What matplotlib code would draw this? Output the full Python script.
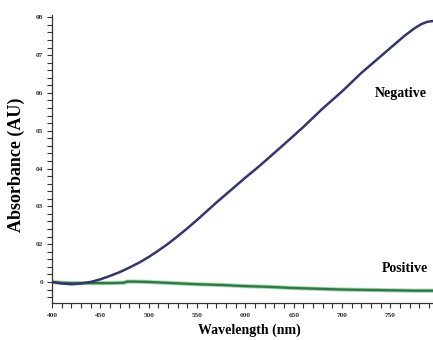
import matplotlib
matplotlib.use("Agg")
import matplotlib.pyplot as plt
from matplotlib.ticker import MultipleLocator

# ---- data ----
neg_nm = [400, 410, 420, 430, 440, 450, 460, 470, 480, 490, 500, 510, 520, 530,
          540, 550, 560, 570, 580, 590, 600, 610, 620, 640, 660, 680, 700, 720,
          740, 755, 765, 775, 782, 788, 794]
neg_val = [0.0, -0.004, -0.006, -0.004, 0.0, 0.007, 0.016, 0.026, 0.038, 0.051,
           0.066, 0.083, 0.101, 0.121, 0.142, 0.164, 0.187, 0.210, 0.232, 0.254,
           0.276, 0.297, 0.319, 0.364, 0.410, 0.459, 0.504, 0.553, 0.597, 0.630,
           0.652, 0.671, 0.682, 0.688, 0.690]

pos_nm = [400, 410, 420, 440, 460, 474, 478, 485, 500, 525, 550, 575, 600, 625,
          650, 675, 700, 725, 750, 775, 794]
pos_val = [0.0, -0.002, -0.003, -0.003, -0.003, -0.002, 0.001, 0.001, 0.0, -0.003,
           -0.006, -0.008, -0.011, -0.013, -0.016, -0.018, -0.020, -0.021, -0.022,
           -0.023, -0.023]

y_tick_pos = [0.0, 0.1, 0.2, 0.3, 0.4, 0.5, 0.6, 0.7]
y_tick_labels = ["0", "02", "03", "04", "05", "06", "07", "08"]
x_tick_pos = [400, 450, 500, 550, 600, 650, 700, 750]
x_tick_labels = ["400", "450", "500", "550", "600", "650", "700", "750"]

serif = ["Liberation Serif", "DejaVu Serif"]

fig = plt.figure(figsize=(4.33, 3.40), dpi=100)
ax = fig.add_axes([52 / 433, 37 / 340, 381 / 433, 288 / 340])

ax.plot(pos_nm, pos_val, color="#a6d8ae", lw=3.0, solid_capstyle="round", zorder=2)
ax.plot(pos_nm, pos_val, color="#2e7a46", lw=1.7, zorder=3)
ax.plot(neg_nm, neg_val, color="#35356f", lw=1.8, zorder=4)

ax.set_xlim(400, 794)
ax.set_ylim(-0.0556, 0.706)

ax.set_xticks(x_tick_pos)
ax.set_xticklabels(x_tick_labels)
ax.set_yticks(y_tick_pos)
ax.set_yticklabels(y_tick_labels)
ax.xaxis.set_minor_locator(MultipleLocator(10))
ax.yaxis.set_minor_locator(MultipleLocator(0.02))

for lab in ax.get_xticklabels() + ax.get_yticklabels():
    lab.set_fontfamily(serif)
    lab.set_fontsize(5.3)
    lab.set_fontweight("bold")
    lab.set_color("#333333")

ax.tick_params(axis="both", which="both", direction="out", width=0.8,
               color="#333333", length=3.5)
ax.tick_params(axis="y", which="major", pad=3)
ax.tick_params(axis="x", which="major", pad=4)

for s in ["top", "right"]:
    ax.spines[s].set_visible(False)
for s in ["left", "bottom"]:
    ax.spines[s].set_linewidth(0.9)
    ax.spines[s].set_color("#333333")

ax.set_ylabel("Absorbance (AU)", fontfamily=serif, fontweight="bold", fontsize=13)
ax.yaxis.set_label_coords(-0.071, 0.479)
ax.set_xlabel("Wavelength (nm)", fontfamily=serif, fontweight="bold", fontsize=10)
ax.xaxis.set_label_coords(0.517, -0.071)

ax.text(401 / 433, 1 - 94 / 340, "Negative", transform=fig.transFigure,
        ha="center", va="center", fontfamily=serif, fontweight="bold", fontsize=10)
ax.text(405 / 433, 1 - 269 / 340, "Positive", transform=fig.transFigure,
        ha="center", va="center", fontfamily=serif, fontweight="bold", fontsize=10)

fig.savefig("out.png", dpi=100)
